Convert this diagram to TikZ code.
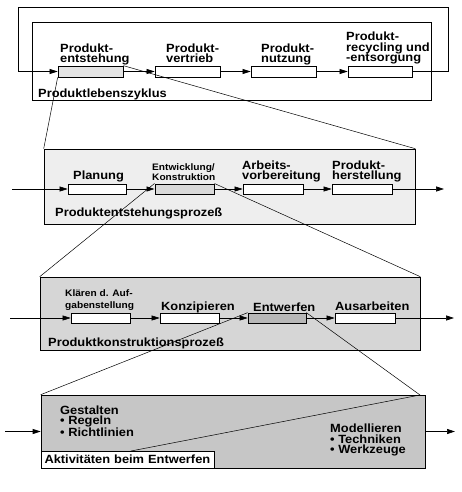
\documentclass[tikz,border=0pt]{standalone}
\usepackage{fontspec}
\setmainfont{Liberation Sans}[FakeStretch=1.08]
\usetikzlibrary{arrows.meta}
\definecolor{fillA}{HTML}{EEEEEE}
\definecolor{fillB}{HTML}{D6D6D6}
\definecolor{fillC}{HTML}{C6C6C6}
\definecolor{boxA}{HTML}{E4E4E4}
\definecolor{boxB}{HTML}{D9D9D9}
\definecolor{boxC}{HTML}{B8B8B8}
\begin{document}
\begin{tikzpicture}[x=1pt,y=-1pt,
  pbox/.style={draw,line width=0.7pt,fill=white,inner sep=0pt},
  frame/.style={draw,line width=0.6pt,inner sep=0pt},
  lbl/.style={anchor=south west,inner sep=0pt,text depth=0pt,align=left,font=\fontsize{11.9}{10.5}\selectfont\bfseries},
  slbl/.style={lbl,font=\fontsize{9.4}{10}\selectfont\bfseries},
  flow/.style={line width=0.6pt,-{Triangle[length=8pt,width=5pt]}},
  zoomline/.style={line width=0.5pt}]
\useasboundingbox (0,0) rectangle (461,492);
% frames
\node[frame,minimum width=399pt,minimum height=78pt] (f1) at (231.5,61) {};
\node[frame,fill=fillA,minimum width=371pt,minimum height=75pt] (f2) at (229.5,186.5) {};
\node[frame,fill=fillB,minimum width=380pt,minimum height=73pt] (f3) at (230,313.5) {};
\node[frame,fill=fillC,minimum width=384pt,minimum height=73pt] (f4) at (233,431.5) {};
% row 1 boxes
\node[pbox,fill=boxA,minimum width=65pt,minimum height=11pt] (b1) at (90.5,71.5) {};
\node[pbox,minimum width=65pt,minimum height=11pt] (b2) at (187.5,71.5) {};
\node[pbox,minimum width=65pt,minimum height=11pt] (b3) at (283.5,71.5) {};
\node[pbox,minimum width=64pt,minimum height=11pt] (b4) at (380,71.5) {};
% row 2 boxes
\node[pbox,minimum width=58pt,minimum height=10pt] (p1) at (97,189) {};
\node[pbox,fill=boxB,line width=1pt,minimum width=59pt,minimum height=10pt] (p2) at (184.5,189) {};
\node[pbox,minimum width=60pt,minimum height=10pt] (p3) at (273,189) {};
\node[pbox,minimum width=60pt,minimum height=10pt] (p4) at (362,189) {};
% row 3 boxes
\node[pbox,minimum width=59pt,minimum height=10pt] (k1) at (100.5,318) {};
\node[pbox,minimum width=59pt,minimum height=10pt] (k2) at (189.5,318) {};
\node[pbox,fill=boxC,minimum width=58pt,minimum height=10pt] (k3) at (277,318) {};
\node[pbox,minimum width=60pt,minimum height=10pt] (k4) at (365,318) {};
% coordinates
\coordinate (lt) at (18,7);
\coordinate (rt) at (448,7);
\coordinate (r2l) at (12,189);
\coordinate (r2r) at (444,189);
\coordinate (r3l) at (10,318);
\coordinate (r3r) at (454,318);
\coordinate (r4l) at (5,431.5);
\coordinate (r4r) at (455,431.5);
\coordinate (f4top) at (420,395);
\coordinate (dg) at (131,451);
% row 1 connectors
\draw[flow] (b4.east) -| (rt) -- (lt) |- (b1.west);
\draw[flow] (b1.east) -- (b2.west);
\draw[flow] (b2.east) -- (b3.west);
\draw[flow] (b3.east) -- (b4.west);
% row 2 connectors
\draw[flow] (r2l) -- (p1.west);
\draw[flow] (p1.east) -- (p2.west);
\draw[flow] (p2.east) -- (p3.west);
\draw[flow] (p3.east) -- (p4.west);
\draw[flow] (p4.east) -- (r2r);
% row 3 connectors
\draw[flow] (r3l) -- (k1.west);
\draw[flow] (k1.east) -- (k2.west);
\draw[flow] (k2.east) -- (k3.west);
\draw[flow] (k3.east) -- (k4.west);
\draw[flow] (k4.east) -- (r3r);
% row 4 connectors
\draw[flow] (r4l) -- (f4.west);
\draw[flow] (f4.east) -- (r4r);
% zoom lines
\draw[zoomline] (b1.south west) -- (f2.north west);
\draw[zoomline] (b1.north east) -- (f2.north east);
\draw[zoomline] (p2.north west) -- (f3.north west);
\draw[zoomline] (p2.north east) -- (f3.north east);
\draw[zoomline] (k3.north west) -- (f4.north west);
\draw[zoomline] (k3.north east) -- (f4top);
% bottom panel
\node[draw,line width=0.6pt,fill=white,anchor=south west,minimum height=17pt,text width=166pt,inner xsep=3.5pt,inner ysep=0pt,align=left,font=\fontsize{11.9}{12}\selectfont\bfseries] (lb) at (f4.south west) {Aktivitäten beim Entwerfen};
\draw[zoomline] (dg) -- (f4top);
% labels row 1
\node[lbl] (t1) at (60,63) {Produkt-\\entstehung};
\node[lbl] (t2) at (166,63) {Produkt-\\vertrieb};
\node[lbl] (t3) at (261,63) {Produkt-\\nutzung};
\node[lbl] (t4) at (346,62) {Produkt-\\recycling und\\-entsorgung};
\node[lbl] (t5) at (38,98) {Produktlebenszyklus};
% labels row 2
\node[lbl] (u1) at (73,180) {Planung};
\node[slbl,font=\fontsize{9.4}{10}\selectfont\bfseries] (u2) at (152,181) {Entwicklung/\\Konstruktion};
\node[lbl] (u3) at (242,180) {Arbeits-\\vorbereitung};
\node[lbl] (u4) at (332,180) {Produkt-\\herstellung};
\node[lbl] (u5) at (55,217) {Produktentstehungsprozeß};
% labels row 3
\node[slbl,font=\fontsize{9.4}{11.5}\selectfont\bfseries] (v1) at (65,308.5) {Klären d. Auf-\\gabenstellung};
\node[lbl] (v2) at (161,311) {Konzipieren};
\node[lbl] (v3) at (253,311.5) {Entwerfen};
\node[lbl] (v4) at (335,311) {Ausarbeiten};
\node[lbl] (v5) at (48,347) {Produktkonstruktionsprozeß};
% labels row 4
\node[lbl] (w1) at (60,437) {Gestalten\\• Regeln\\• Richtlinien};
\node[lbl] (w2) at (330,454) {Modellieren\\• Techniken\\• Werkzeuge};
\end{tikzpicture}
\end{document}
